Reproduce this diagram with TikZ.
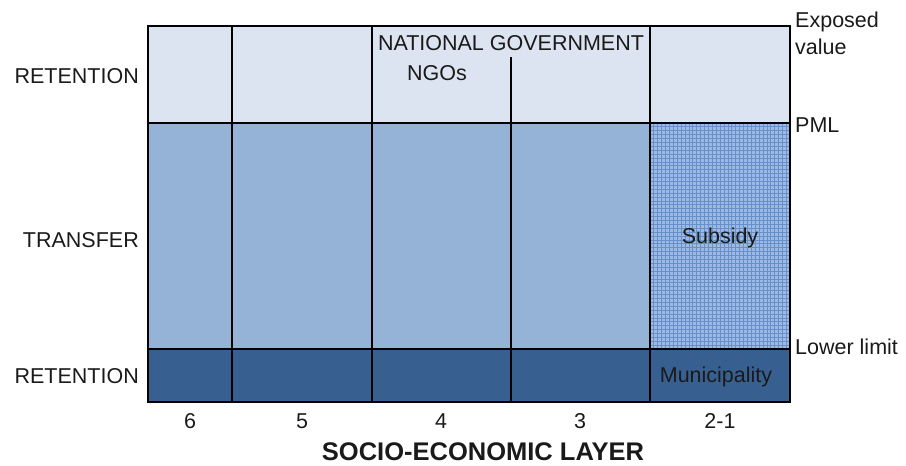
\documentclass[tikz,border=0pt]{standalone}
\usepackage{fontspec}
\setmainfont{Liberation Sans}
\definecolor{cLight}{HTML}{DBE4F0}
\definecolor{cMid}{HTML}{95B3D7}
\definecolor{cDark}{HTML}{376091}
\definecolor{cSubBase}{HTML}{9FBAE2}
\definecolor{cSubLine}{HTML}{6690CC}
\definecolor{cText}{HTML}{1A1A1A}
\tikzset{
  lbl/.style={font=\fontsize{21.5}{25}\selectfont, text=cText, inner sep=0pt},
  celltxt/.style={font=\fontsize{21.5}{25}\selectfont, text=cText, inner sep=0pt},
  ttl/.style={font=\fontsize{25.5}{30}\selectfont\bfseries, text=cText, inner sep=0pt},
  edge/.style={line width=1.7pt, black}
}
\begin{document}
\begin{tikzpicture}[x=1pt,y=-1pt]
\useasboundingbox (0,0) rectangle (906,466);
% fills
\fill[cLight] (148,26) rectangle (790,123);
\fill[cMid] (148,123) rectangle (650,349);
\fill[cDark] (148,349) rectangle (790,402);
\fill[cSubBase] (650,123) rectangle (790,349);
\begin{scope}
\clip (650,123) rectangle (790,349);
\foreach \i in {0,...,36} {
  \draw[cSubLine, line width=0.9pt] (650+\i*3.9,123) -- (650+\i*3.9,349);
}
\foreach \j in {0,...,58} {
  \draw[cSubLine, line width=0.9pt] (650,123+\j*3.9) -- (790,123+\j*3.9);
}
\end{scope}
% lines
\draw[edge] (148,26) rectangle (790,402);
\draw[edge] (148,123) -- (790,123);
\draw[edge] (148,349) -- (790,349);
\draw[edge] (232,26) -- (232,402);
\draw[edge] (372,26) -- (372,402);
\draw[edge] (511,57) -- (511,402);
\draw[edge] (650,26) -- (650,402);
% left labels
\node[lbl, anchor=east] (r1) at (139,76) {RETENTION};
\node[lbl, anchor=east] (tr) at (139,240) {TRANSFER};
\node[lbl, anchor=east] (r2) at (139,376) {RETENTION};
% right labels
\node[lbl, anchor=west, align=left, font=\fontsize{21.5}{27}\selectfont] (ev) at (795,33) {Exposed\\value};
\node[lbl, anchor=west] (pml) at (795,125) {PML};
\node[lbl, anchor=west] (ll) at (795,347) {Lower limit};
% cell texts
\node[celltxt] (ng) at (511,43) {NATIONAL GOVERNMENT};
\node[celltxt] (ngo) at (437,73) {NGOs};
\node[celltxt] (sub) at (720,238) {Subsidy};
\node[celltxt] (mun) at (716,377) {Municipality};
% numbers
\node[lbl] (n6) at (190,421) {6};
\node[lbl] (n5) at (302,421) {5};
\node[lbl] (n4) at (441,421) {4};
\node[lbl] (n3) at (580,421) {3};
\node[lbl] (n21) at (720,421) {2-1};
\node[ttl] (title) at (483,452) {SOCIO-ECONOMIC LAYER};
\end{tikzpicture}
\end{document}
